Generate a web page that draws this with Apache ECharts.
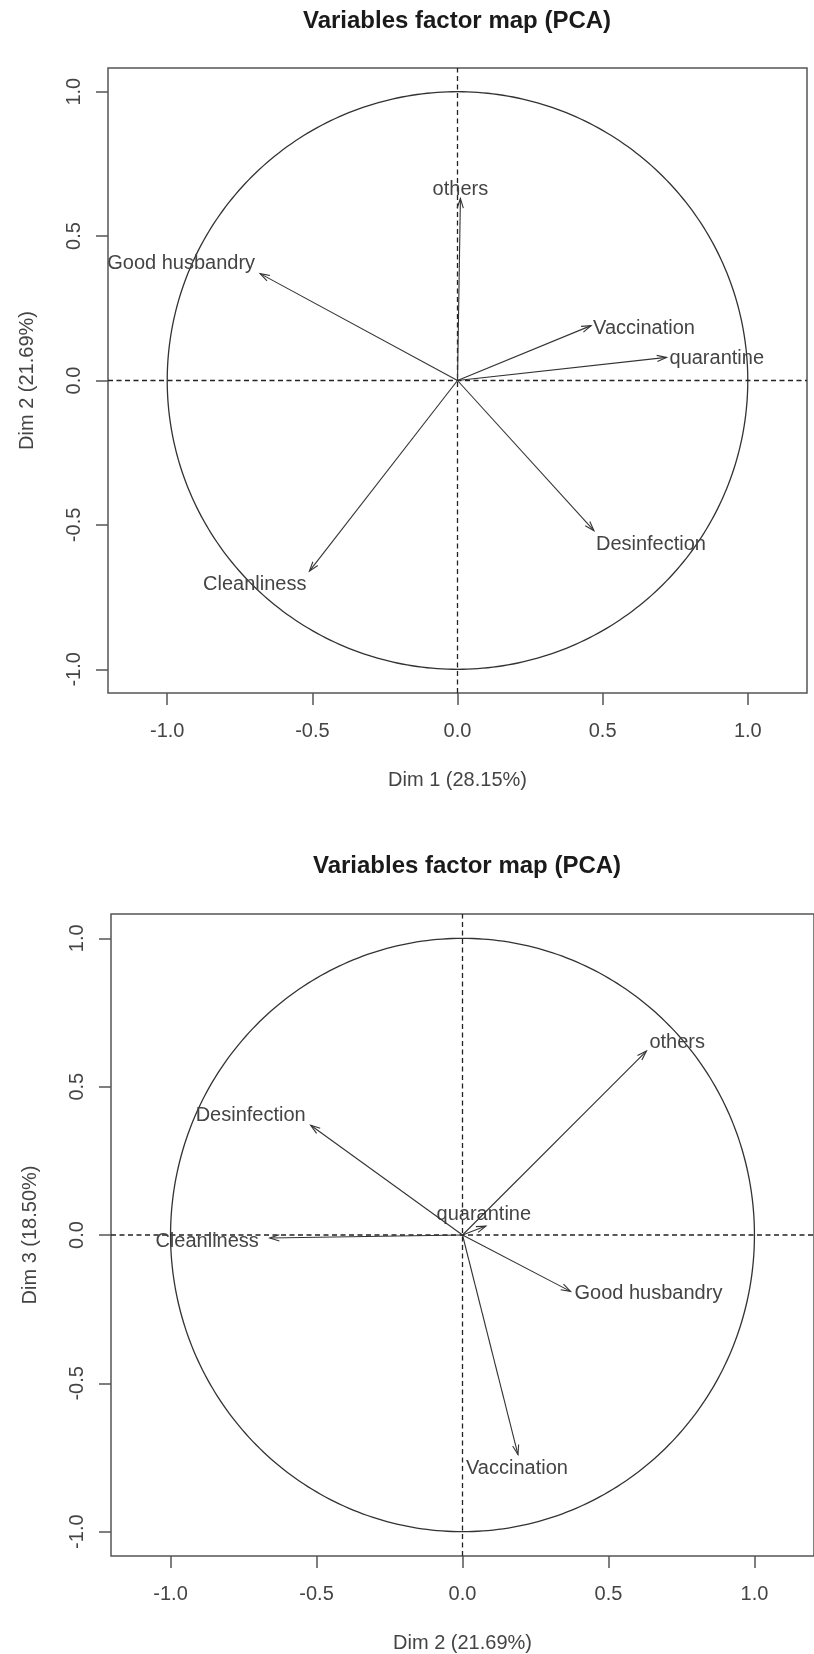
<!DOCTYPE html>
<html>
<head>
<meta charset="utf-8">
<script src="https://cdn.jsdelivr.net/npm/echarts@6/dist/echarts.min.js"></script>
<style>
  html, body { margin: 0; padding: 0; background: #ffffff; }
  #chart { width: 814px; height: 1654px; }
</style>
</head>
<body>
<div id="chart"></div>
<script>
// Correlations of the variables with the principal components
const variables = ['Vaccination', 'quarantine', 'Desinfection', 'Cleanliness', 'Good husbandry', 'others'];
const dim1 = [0.46, 0.72, 0.47, -0.51, -0.68, 0.01];
const dim2 = [0.19, 0.08, -0.52, -0.66, 0.37, 0.63];
const dim3 = [-0.74, 0.03, 0.37, -0.01, -0.19, 0.62];

const tickValues = [-1, -0.5, 0, 0.5, 1];
const panelTitles = ['Variables factor map (PCA)', 'Variables factor map (PCA)'];
const xNames = ['Dim 1 (28.15%)', 'Dim 2 (21.69%)'];
const yNames = ['Dim 2 (21.69%)', 'Dim 3 (18.50%)'];

// Panel coordinates: [x values, y values] for each factor map
const panels = [[dim1, dim2], [dim2, dim3]];

// Label anchoring next to each arrow tip: [text alignment, dx px, dy px]
const labelPlacement = [
  {
    'Vaccination': ['left', 2, 3],
    'quarantine': ['left', 3, 1],
    'Desinfection': ['left', 2, 14],
    'Cleanliness': ['right', -3, 13],
    'Good husbandry': ['right', -5, -10],
    'others': ['center', 0, -9]
  },
  {
    'others': ['left', 3, -9],
    'Desinfection': ['right', -5, -10],
    'quarantine': ['center', -2, -12],
    'Cleanliness': ['right', -11, 4],
    'Good husbandry': ['left', 4, 2],
    'Vaccination': ['center', -1, 14]
  }
];

const X_MIN = -1.204, X_MAX = 1.204, Y_MIN = -1.082, Y_MAX = 1.082;
const FONT = '"Liberation Sans", Arial, sans-serif';
const INK = '#333333';
const TEXT = '#444444';

const grids = [
  { left: 108, top: 68, width: 699, height: 625 },
  { left: 111, top: 914, width: 712, height: 642 }
];

function makeAxis(isX, idx) {
  return {
    type: 'value',
    gridIndex: idx,
    min: isX ? X_MIN : Y_MIN,
    max: isX ? X_MAX : Y_MAX,
    name: isX ? xNames[idx] : yNames[idx],
    nameLocation: 'middle',
    nameGap: isX ? 77 : 71,
    nameRotate: isX ? 0 : 90,
    nameTextStyle: { fontFamily: FONT, fontSize: 20, color: TEXT },
    axisLine: { show: false, onZero: false },
    axisTick: {
      show: true, inside: false, length: 12,
      customValues: tickValues,
      lineStyle: { color: '#555555', width: 1.5 }
    },
    axisLabel: {
      show: true,
      customValues: tickValues,
      formatter: v => Number(v).toFixed(1),
      rotate: isX ? 0 : 90,
      margin: isX ? 28 : 24,
      fontFamily: FONT, fontSize: 20, color: TEXT
    },
    splitLine: { show: false }
  };
}

// Unit circle and dashed reference lines through the origin
function frameItem(params, api) {
  const pts = [];
  for (let k = 0; k <= 360; k++) {
    const t = k * Math.PI / 180;
    pts.push(api.coord([Math.cos(t), Math.sin(t)]));
  }
  const h0 = api.coord([X_MIN, 0]), h1 = api.coord([X_MAX, 0]);
  const v0 = api.coord([0, Y_MIN]), v1 = api.coord([0, Y_MAX]);
  const dash = { stroke: '#222222', lineWidth: 1.3, lineDash: [5, 3.5] };
  return {
    type: 'group',
    children: [
      { type: 'polyline', shape: { points: pts }, style: { stroke: INK, lineWidth: 1.3, fill: null } },
      { type: 'line', shape: { x1: h0[0], y1: h0[1], x2: h1[0], y2: h1[1] }, style: dash },
      { type: 'line', shape: { x1: v0[0], y1: v0[1], x2: v1[0], y2: v1[1] }, style: dash }
    ]
  };
}

// Arrow from the origin to each variable, with its name beside the tip
function arrowRenderer(panelIdx) {
  return function (params, api) {
    const name = variables[params.dataIndex];
    const p0 = api.coord([0, 0]);
    const p1 = api.coord([api.value(0), api.value(1)]);
    const ang = Math.atan2(p1[1] - p0[1], p1[0] - p0[0]);
    const L = 10, a = 18 * Math.PI / 180;
    const h1 = [p1[0] - L * Math.cos(ang - a), p1[1] - L * Math.sin(ang - a)];
    const h2 = [p1[0] - L * Math.cos(ang + a), p1[1] - L * Math.sin(ang + a)];
    const pl = labelPlacement[panelIdx][name];
    return {
      type: 'group',
      children: [
        { type: 'line', shape: { x1: p0[0], y1: p0[1], x2: p1[0], y2: p1[1] },
          style: { stroke: INK, lineWidth: 1.1 } },
        { type: 'polyline', shape: { points: [h1, p1, h2] },
          style: { stroke: INK, lineWidth: 1.1, fill: null } },
        { type: 'text', x: p1[0] + pl[1], y: p1[1] + pl[2],
          style: { text: name, fill: TEXT, fontFamily: FONT, fontSize: 20,
                   align: pl[0], verticalAlign: 'middle' } }
      ]
    };
  };
}

const series = [];
panels.forEach((pan, i) => {
  series.push({
    type: 'custom', xAxisIndex: i, yAxisIndex: i, silent: true, clip: false,
    renderItem: frameItem, data: [[0, 0]], z: 1
  });
  series.push({
    type: 'custom', xAxisIndex: i, yAxisIndex: i, silent: true, clip: false,
    renderItem: arrowRenderer(i),
    data: variables.map((v, k) => [pan[0][k], pan[1][k]]), z: 2
  });
});

const option = {
  backgroundColor: '#ffffff',
  animation: false,
  title: [
    { text: panelTitles[0], left: 457, top: 9, textAlign: 'center', padding: 0,
      textStyle: { fontFamily: FONT, fontSize: 24, fontWeight: 'bold', color: '#1a1a1a' } },
    { text: panelTitles[1], left: 467, top: 854, textAlign: 'center', padding: 0,
      textStyle: { fontFamily: FONT, fontSize: 24, fontWeight: 'bold', color: '#1a1a1a' } }
  ],
  grid: grids.map(g => Object.assign({ show: true, borderColor: '#555555', borderWidth: 1.5,
                                       backgroundColor: 'transparent', containLabel: false }, g)),
  xAxis: [makeAxis(true, 0), makeAxis(true, 1)],
  yAxis: [makeAxis(false, 0), makeAxis(false, 1)],
  series: series
};

const chart = echarts.init(document.getElementById('chart'), null, { renderer: 'canvas' });
chart.setOption(option);
</script>
</body>
</html>
